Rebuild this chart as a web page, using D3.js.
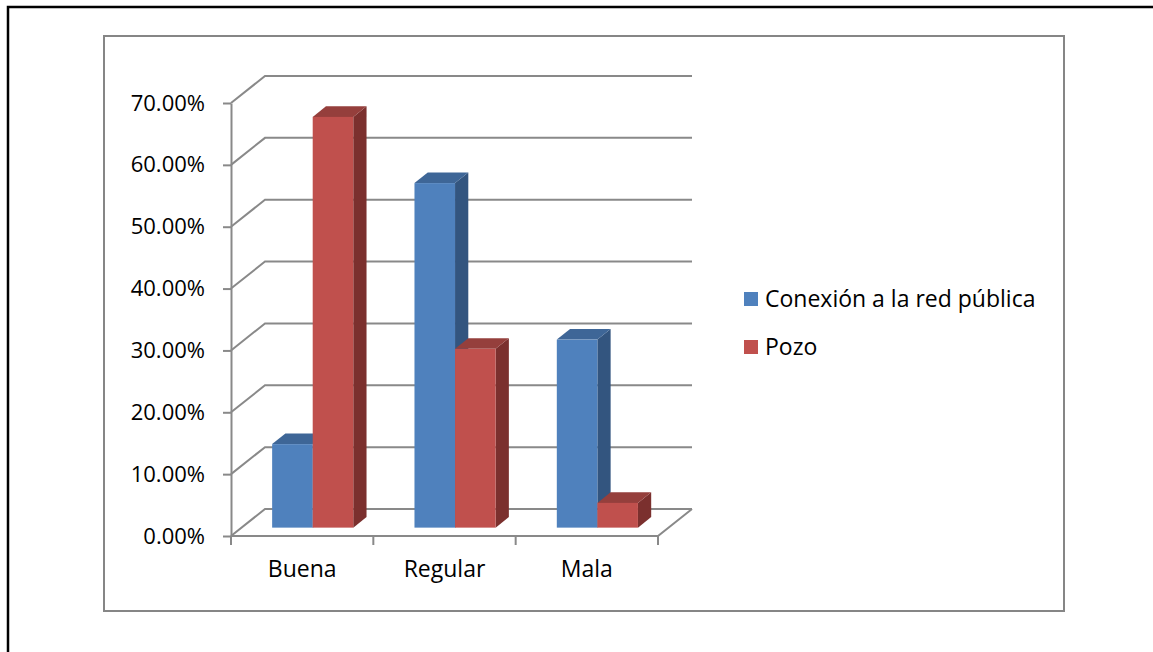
<!DOCTYPE html>
<html>
<head>
<meta charset="utf-8">
<script src="https://cdn.jsdelivr.net/npm/d3@7"></script>
<style>
  html, body { margin: 0; padding: 0; background: #fff; }
  svg { display: block; }
  text { font-family: "Open Sans", "Noto Sans", sans-serif; fill: #000; }
</style>
</head>
<body>
<svg id="chart" width="1153" height="652"></svg>
<script>
// Calidad del servicio según tipo de abastecimiento de agua
const categories = ["Buena", "Regular", "Mala"];
const seriesNames = ["Conexión a la red pública", "Pozo"];
const conexion = [13.5, 55.7, 30.4];
const pozo = [66.4, 28.9, 4.0];
const yTicks = [0, 10, 20, 30, 40, 50, 60, 70];

const seriesValues = [conexion, pozo];
const faceColors = [
  { front: "#4f81bd", top: "#3e6697", side: "#33557f" },
  { front: "#c0504d", top: "#953f3c", side: "#7b302e" }
];

const svg = d3.select("#chart");
const grid = "#898989";

// outer page border and chart area frame
svg.append("path")
  .attr("d", "M8,660 L8,7 L1160,7")
  .attr("fill", "none").attr("stroke", "#000").attr("stroke-width", 2.5);
svg.append("rect")
  .attr("x", 104).attr("y", 36).attr("width", 960).attr("height", 575)
  .attr("fill", "none").attr("stroke", "#868686").attr("stroke-width", 2);

// front plane scales
const y = d3.scaleLinear().domain([0, 70]).range([536, 103]);
const x = d3.scaleBand().domain(categories).range([231, 658])
  .paddingInner(0.43).paddingOuter(0.215);
const xs = d3.scaleBand().domain(seriesNames).range([0, x.bandwidth()]);

// oblique depth vector of the plot box
const DX = 34, DY = -27;
const x0 = 231, x1 = 658;

const g = svg.append("g");

// back wall gridlines and side wall diagonals
yTicks.forEach(t => {
  const yy = y(t);
  g.append("polyline")
    .attr("points", `${x0},${yy} ${x0 + DX},${yy + DY} ${x1 + DX},${yy + DY}`)
    .attr("fill", "none").attr("stroke", grid).attr("stroke-width", 2);
});
// floor outline
g.append("polyline")
  .attr("points", `${x0},${y(0)} ${x1},${y(0)} ${x1 + DX},${y(0) + DY}`)
  .attr("fill", "none").attr("stroke", grid).attr("stroke-width", 2);

// value axis on the front plane
const yAxis = d3.axisLeft(y)
  .tickValues(yTicks)
  .tickFormat(d => d.toFixed(2) + "%")
  .tickSizeInner(8).tickSizeOuter(0).tickPadding(18);
const ya = svg.append("g").attr("transform", `translate(${x0},0)`).call(yAxis);
ya.select(".domain").attr("stroke", grid).attr("stroke-width", 2);
ya.selectAll(".tick line").attr("stroke", grid).attr("stroke-width", 2);
ya.selectAll(".tick text").style("font-size", "22px").attr("fill", "#000");

// category axis: labels under each group, ticks at group boundaries
const xAxis = d3.axisBottom(x).tickSize(0).tickPadding(25);
const xa = svg.append("g").attr("transform", `translate(0,${y(0)})`).call(xAxis);
xa.select(".domain").remove();
xa.selectAll(".tick text").style("font-size", "23px").attr("fill", "#000");
const bounds = categories.map(c => x(c) - x.step() * x.paddingInner() / 2)
  .concat([x1]);
svg.append("g").selectAll("line").data(bounds).join("line")
  .attr("x1", d => d).attr("x2", d => d)
  .attr("y1", y(0)).attr("y2", y(0) + 9)
  .attr("stroke", grid).attr("stroke-width", 2);

// 3D columns: front face placed part way into the depth
const f0 = 0.31, f1 = 0.70;
const bars = [];
categories.forEach((c, i) => {
  seriesNames.forEach((s, j) => {
    bars.push({ c, s, j, v: seriesValues[j][i] });
  });
});

const bg = svg.append("g");
bars.forEach(b => {
  const ox = DX * f0, oy = DY * f0;
  const dx = DX * (f1 - f0), dy = DY * (f1 - f0);
  const l = x(b.c) + xs(b.s) + ox;
  const r = l + xs.bandwidth();
  const top = y(b.v) + oy;
  const bot = y(0) + oy;
  const col = faceColors[b.j];
  const gb = bg.append("g");
  // side face
  gb.append("path")
    .attr("d", `M${r},${top} L${r + dx},${top + dy} L${r + dx},${bot + dy} L${r},${bot} Z`)
    .attr("fill", col.side);
  // top face
  gb.append("path")
    .attr("d", `M${l},${top} L${l + dx},${top + dy} L${r + dx},${top + dy} L${r},${top} Z`)
    .attr("fill", col.top);
  // front face
  gb.append("rect")
    .attr("x", l).attr("y", top).attr("width", r - l).attr("height", bot - top)
    .attr("fill", col.front);
});

// legend
const lg = svg.append("g").attr("transform", "translate(744,292)");
seriesNames.forEach((s, j) => {
  const row = lg.append("g").attr("transform", `translate(0,${j * 48})`);
  row.append("rect").attr("width", 14).attr("height", 14)
    .attr("fill", faceColors[j].front);
  row.append("text").attr("x", 21).attr("y", 15)
    .style("font-size", "23px").text(s);
});
</script>
</body>
</html>
